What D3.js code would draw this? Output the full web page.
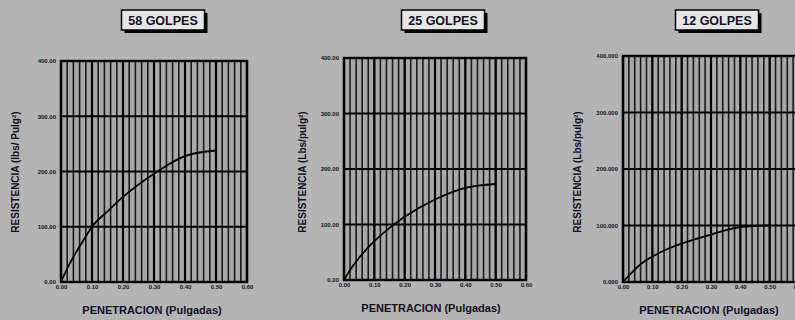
<!DOCTYPE html>
<html>
<head>
<meta charset="utf-8">
<script src="https://cdn.jsdelivr.net/npm/d3@7"></script>
<style>
  html, body { margin: 0; padding: 0; background: #b4b4b4; }
  svg { display: block; }
  text { font-family: "Liberation Sans", Arial, sans-serif; font-weight: bold; }
</style>
</head>
<body>
<svg id="chart" width="795" height="320"></svg>
<script>
// ---- data ----
const titles = ["58 GOLPES", "25 GOLPES", "12 GOLPES"];
const yLabels = ["RESISTENCIA (lbs/ Pulg²)", "RESISTENCIA (Lbs/pulg²)", "RESISTENCIA (Lbs/pulg²)"];
const xLabel = "PENETRACION (Pulgadas)";
const xTicks = [0, 0.1, 0.2, 0.3, 0.4, 0.5, 0.6];
const yTicks = [0, 100, 200, 300, 400];
const yTickDecimals = [2, 2, 3];
const penetration = [0, 0.025, 0.05, 0.075, 0.1, 0.15, 0.2, 0.3, 0.4, 0.5];
const resistance58 = [0, 30, 55, 78, 100, 128, 154, 196, 228, 238];
const resistance25 = [0, 22, 40, 56, 70, 94, 114, 145, 166, 173];
const resistance12 = [0, 14, 27, 37, 45, 58, 68, 84, 97, 100];
const seriesList = [resistance58, resistance25, resistance12];

// ---- layout ----
const panels = [
  { x0: 61, x1: 247, y0: 61, y1: 282, titleCx: 163, yLabX: 15, xLabCx: 152, xLabY: 314 },
  { x0: 344, x1: 526, y0: 58, y1: 280, titleCx: 443, yLabX: 302, xLabCx: 431, xLabY: 312 },
  { x0: 623, x1: 799, y0: 56, y1: 282, titleCx: 717, yLabX: 577, xLabCx: 709, xLabY: 314 }
];

const svg = d3.select("#chart");
svg.append("rect").attr("width", 795).attr("height", 320).attr("fill", "#b4b4b4");

panels.forEach((p, i) => {
  const g = svg.append("g");
  const x = d3.scaleLinear().domain([0, 0.6]).range([p.x0, p.x1]);
  const y = d3.scaleLinear().domain([0, 400]).range([p.y1, p.y0]);

  // plot background slightly darker
  g.append("rect").attr("x", p.x0).attr("y", p.y0)
    .attr("width", p.x1 - p.x0).attr("height", p.y1 - p.y0).attr("fill", "#a8a8a8");

  // minor vertical grid every 0.02
  const minor = d3.range(0, 0.6001, 0.02);
  g.selectAll(".minor").data(minor).enter().append("line")
    .attr("x1", d => x(d)).attr("x2", d => x(d))
    .attr("y1", p.y0).attr("y2", p.y1)
    .attr("stroke", "#1a1a1a").attr("stroke-width", 1.6);
  // major vertical
  g.selectAll(".majv").data(xTicks).enter().append("line")
    .attr("x1", d => x(d)).attr("x2", d => x(d))
    .attr("y1", p.y0).attr("y2", p.y1)
    .attr("stroke", "#000").attr("stroke-width", 2.2);
  // major horizontal
  g.selectAll(".majh").data(yTicks).enter().append("line")
    .attr("x1", p.x0).attr("x2", p.x1)
    .attr("y1", d => y(d)).attr("y2", d => y(d))
    .attr("stroke", "#000").attr("stroke-width", 2);
  // border
  g.append("rect").attr("x", p.x0).attr("y", p.y0)
    .attr("width", p.x1 - p.x0).attr("height", p.y1 - p.y0)
    .attr("fill", "none").attr("stroke", "#000").attr("stroke-width", 2.4);

  // axes (labels only)
  const xAxis = d3.axisBottom(x).tickValues(xTicks).tickFormat(d3.format(".2f")).tickSize(0).tickPadding(3);
  const xa = g.append("g").attr("transform", `translate(0,${p.y1})`).call(xAxis);
  xa.select(".domain").remove();
  xa.selectAll("text").attr("font-size", 6).attr("fill", "#141428")
    .attr("font-family", "Liberation Sans, Arial, sans-serif").attr("font-weight", "bold");

  const yAxis = d3.axisLeft(y).tickValues(yTicks).tickFormat(d3.format("." + yTickDecimals[i] + "f")).tickSize(0).tickPadding(5);
  const ya = g.append("g").attr("transform", `translate(${p.x0},0)`).call(yAxis);
  ya.select(".domain").remove();
  ya.selectAll("text").attr("font-size", 6).attr("fill", "#141428")
    .attr("font-family", "Liberation Sans, Arial, sans-serif").attr("font-weight", "bold");

  // curve
  const pts = penetration.map((d, k) => [d, seriesList[i][k]]);
  g.append("path").datum(pts)
    .attr("d", d3.line().x(d => x(d[0])).y(d => y(d[1])).curve(d3.curveMonotoneX))
    .attr("fill", "none").attr("stroke", "#000").attr("stroke-width", 1.8);

  // title box with shadow
  const bw = 83, bh = 20, bx = p.titleCx - bw / 2, by = 10;
  g.append("rect").attr("x", bx + 3).attr("y", by + 3).attr("width", bw).attr("height", bh).attr("fill", "#000");
  g.append("rect").attr("x", bx).attr("y", by).attr("width", bw).attr("height", bh)
    .attr("fill", "#e6e6e6").attr("stroke", "#000").attr("stroke-width", 1.5);
  g.append("text").attr("x", p.titleCx).attr("y", by + 15)
    .attr("text-anchor", "middle").attr("font-size", 12.5).attr("fill", "#10102a")
    .text(titles[i]);

  // y label
  const cy = 172;
  g.append("text").attr("transform", `translate(${p.yLabX + 3.5},${cy}) rotate(-90)`)
    .attr("text-anchor", "middle").attr("font-size", 10).attr("fill", "#10102a")
    .text(yLabels[i]);

  // x label
  g.append("text").attr("x", p.xLabCx).attr("y", p.xLabY)
    .attr("text-anchor", "middle").attr("font-size", 11).attr("fill", "#10102a")
    .text(xLabel);
});
</script>
</body>
</html>
